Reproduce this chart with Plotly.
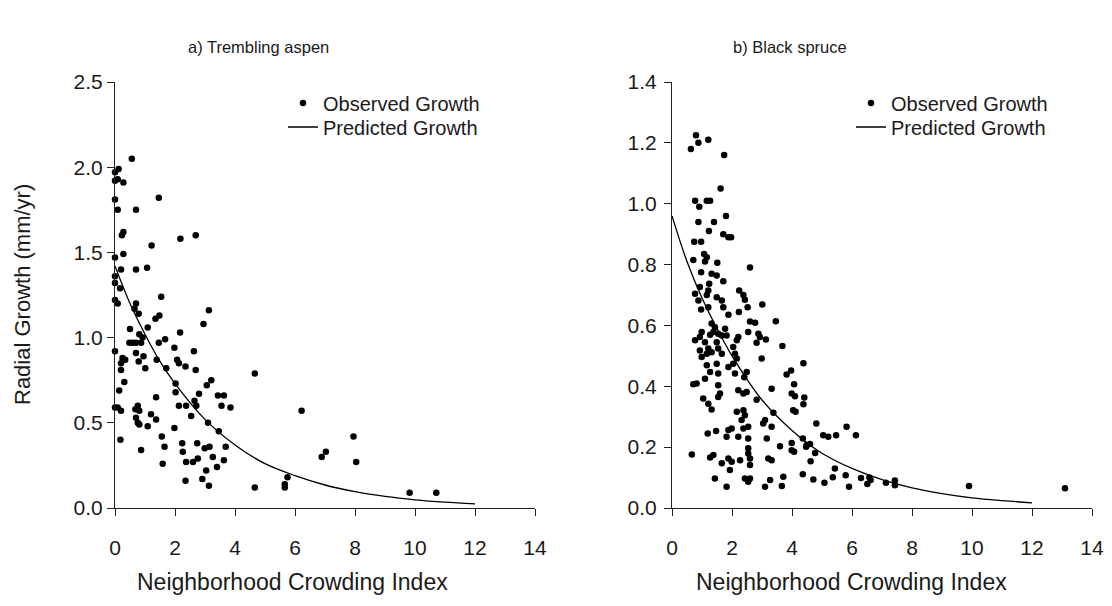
import plotly.graph_objects as go

# ---- data ----
aspen_nci = [0.56, 0.0, 0.12, 0.0, 0.09, 0.28, 1.46, 0.0, 0.09, 0.70, 0.23, 0.28, 2.18, 2.69, 1.22, 0.0, 0.28, 0.20, 0.70, 1.07,
             0.0, 0.0, 0.17, 1.54, 0.0, 0.09, 0.70, 0.65, 0.79, 1.48, 1.35, 3.13, 2.95, 1.09, 0.50,
             2.17, 0.92, 0.81, 0.48, 0.59, 0.70, 0.87, 1.46, 1.67, 0.0, 1.98, 2.63, 0.70, 0.95, 0.25, 0.34, 0.20, 1.39, 2.07, 2.13,
             0.79, 0.20, 1.01, 1.71, 2.35, 2.69, 0.31, 2.02, 3.06, 3.21, 4.66, 0.14, 2.02, 2.80, 3.43, 3.63, 1.37, 2.65, 2.71, 2.13,
             2.37, 3.55, 3.85, 0.0, 0.09, 0.20, 0.76, 0.81, 0.68, 0.70, 0.76, 0.81, 2.54, 1.20, 1.37, 1.09, 1.98, 3.10, 3.46, 0.18,
             1.56, 2.24, 2.74, 0.87, 1.65, 2.26, 2.99, 3.15, 3.69, 3.26, 1.59, 2.37, 2.60, 2.76, 3.40, 3.63, 3.04, 2.35, 2.91, 3.13,
             4.66, 5.66, 5.66, 5.75, 6.22, 7.95, 6.89, 7.03, 8.04, 9.82, 10.71]
aspen_growth = [2.05, 1.97, 1.99, 1.92, 1.93, 1.91, 1.82, 1.81, 1.75, 1.75, 1.60, 1.62, 1.58, 1.60, 1.54, 1.47, 1.49, 1.40, 1.40, 1.41,
                1.36, 1.32, 1.29, 1.24, 1.22, 1.20, 1.20, 1.17, 1.14, 1.13, 1.11, 1.16, 1.08, 1.06, 1.05,
                1.03, 1.00, 1.02, 0.97, 0.97, 0.97, 0.97, 0.97, 0.99, 0.92, 0.94, 0.92, 0.91, 0.89, 0.88, 0.87, 0.85, 0.87, 0.87, 0.85,
                0.86, 0.81, 0.82, 0.82, 0.83, 0.81, 0.74, 0.73, 0.72, 0.75, 0.79, 0.69, 0.68, 0.67, 0.66, 0.66, 0.65, 0.63, 0.60, 0.60,
                0.60, 0.60, 0.59, 0.59, 0.59, 0.57, 0.60, 0.57, 0.58, 0.53, 0.50, 0.49, 0.54, 0.55, 0.52, 0.48, 0.47, 0.50, 0.45, 0.40,
                0.42, 0.38, 0.38, 0.34, 0.36, 0.33, 0.35, 0.36, 0.36, 0.30, 0.26, 0.27, 0.27, 0.29, 0.24, 0.28, 0.22, 0.16, 0.17, 0.13,
                0.12, 0.14, 0.12, 0.18, 0.57, 0.42, 0.30, 0.33, 0.27, 0.09, 0.09]
aspen_pred_nci = [0, 0.5, 1, 1.5, 2, 3, 4, 5, 6, 7, 8, 9, 10, 11, 12]
aspen_pred_growth = [1.42, 1.20, 1.02, 0.86, 0.73, 0.52, 0.37, 0.26, 0.19, 0.135, 0.096, 0.068, 0.048, 0.034, 0.024]

spruce_nci = [0.80, 0.88, 1.21, 0.63, 1.74, 1.62, 0.77, 1.16, 1.27, 0.91, 1.80, 0.88, 1.40, 1.23, 1.71, 1.88, 1.97, 0.74, 0.97,
              0.71, 1.07, 1.16, 1.10, 1.51, 2.60, 0.97, 1.32, 1.49, 1.71, 1.24, 2.24,
              0.93, 0.77, 0.88, 1.21, 1.16, 1.49, 1.66, 1.71, 2.38, 2.43, 3.01, 2.52, 2.23, 1.88, 0.97, 1.21, 3.46, 2.60, 2.77,
              1.32, 1.43, 1.38, 1.54, 1.27, 1.66, 1.77, 1.82, 0.99, 0.93, 2.54, 2.88, 2.93, 2.21, 2.16, 0.77, 1.10, 1.21, 1.16,
              1.49, 1.54, 1.66, 2.82, 3.13, 3.68, 2.04, 2.10, 2.16, 0.93, 0.99, 1.32, 2.99,
              1.16, 1.27, 1.10, 1.49, 1.54, 1.88, 2.04, 2.10, 2.49, 2.41, 3.82, 0.82, 0.71, 1.54, 1.60, 1.54, 2.21, 2.38, 2.49,
              3.32, 2.82, 1.04, 1.21, 1.32, 2.16, 2.38, 2.43, 2.32, 3.38, 3.10, 3.04, 2.54, 2.38, 1.99, 1.88, 3.32, 1.47, 1.19,
              1.82, 2.21, 2.54, 3.16, 3.60, 3.99, 2.54, 2.54, 2.60, 2.60, 0.66, 1.38, 1.27, 1.88, 1.99, 2.27, 1.66, 3.21, 3.32,
              1.93, 1.43, 2.43, 2.54, 2.60, 1.82, 3.10, 3.27, 3.71, 3.66, 3.99, 4.04, 3.99,
              4.38, 3.97, 4.07, 4.10, 4.41, 4.38, 4.12, 4.81, 5.82, 6.13, 5.04, 5.21, 5.47, 4.36, 4.07, 4.49, 4.60, 4.47, 4.77,
              4.62, 5.43, 4.36, 4.71, 5.08, 5.36, 5.79, 5.90, 6.30, 6.58, 6.51, 6.62, 7.13, 7.43, 7.43, 9.90, 13.10]
spruce_growth = [1.225, 1.20, 1.21, 1.18, 1.16, 1.05, 1.01, 1.01, 1.01, 0.99, 0.96, 0.94, 0.94, 0.91, 0.90, 0.89, 0.89, 0.875, 0.875,
                 0.815, 0.835, 0.824, 0.81, 0.806, 0.79, 0.775, 0.77, 0.764, 0.745, 0.737, 0.715,
                 0.726, 0.704, 0.682, 0.715, 0.70, 0.693, 0.682, 0.66, 0.70, 0.684, 0.669, 0.66, 0.644, 0.635, 0.652, 0.66, 0.614, 0.613, 0.609,
                 0.606, 0.594, 0.578, 0.573, 0.569, 0.567, 0.589, 0.567, 0.578, 0.562, 0.578, 0.573, 0.562, 0.562, 0.551, 0.551, 0.545, 0.524, 0.507,
                 0.545, 0.524, 0.507, 0.543, 0.554, 0.532, 0.529, 0.507, 0.491, 0.518, 0.496, 0.512, 0.491,
                 0.469, 0.447, 0.425, 0.474, 0.442, 0.463, 0.474, 0.442, 0.447, 0.43, 0.439, 0.409, 0.407, 0.403, 0.376, 0.365, 0.387, 0.376, 0.381,
                 0.392, 0.356, 0.36, 0.343, 0.324, 0.316, 0.321, 0.305, 0.289, 0.313, 0.289, 0.278, 0.267, 0.261, 0.261, 0.256, 0.267, 0.253, 0.245,
                 0.234, 0.234, 0.228, 0.228, 0.203, 0.214, 0.196, 0.179, 0.163, 0.141, 0.176, 0.174, 0.166, 0.163, 0.152, 0.157, 0.147, 0.163, 0.157,
                 0.125, 0.097, 0.097, 0.086, 0.097, 0.07, 0.07, 0.092, 0.103, 0.072, 0.376, 0.321, 0.19,
                 0.476, 0.452, 0.407, 0.367, 0.363, 0.341, 0.316, 0.278, 0.267, 0.239, 0.239, 0.234, 0.239, 0.228, 0.185, 0.207, 0.21, 0.201, 0.181,
                 0.154, 0.13, 0.111, 0.094, 0.083, 0.101, 0.108, 0.07, 0.099, 0.10, 0.079, 0.092, 0.083, 0.09, 0.075, 0.072, 0.065]
spruce_pred_nci = [0, 0.5, 1, 1.5, 2, 3, 4, 5, 6, 7, 8, 9, 10, 11, 12]
spruce_pred_growth = [0.96, 0.81, 0.69, 0.59, 0.50, 0.355, 0.255, 0.18, 0.13, 0.093, 0.066, 0.047, 0.033, 0.024, 0.017]

x_ticks = [0, 2, 4, 6, 8, 10, 12, 14]
aspen_y_ticks = [0.0, 0.5, 1.0, 1.5, 2.0, 2.5]
spruce_y_ticks = [0.0, 0.2, 0.4, 0.6, 0.8, 1.0, 1.2, 1.4]

panel_titles = ["a) Trembling aspen", "b) Black spruce"]
x_title = "Neighborhood Crowding Index"
y_title = "Radial Growth (mm/yr)"

# ---- figure ----
W, H = 1112, 606
FONT = "Arial, 'Liberation Sans', sans-serif"
INK = "#1a1a1a"

def px_x(p):
    return p / W

def px_y(p):
    return 1 - p / H

fig = go.Figure()

mk = dict(color="black", size=6.5, symbol="circle")
ln = dict(color="black", width=1.3, shape="spline")

fig.add_trace(go.Scatter(x=aspen_nci, y=aspen_growth, mode="markers", marker=mk, name="Observed Growth",
                         xaxis="x", yaxis="y", legend="legend5", showlegend=True, cliponaxis=False))
fig.add_trace(go.Scatter(x=aspen_pred_nci, y=aspen_pred_growth, mode="lines", line=ln, name="Predicted Growth",
                         xaxis="x", yaxis="y", legend="legend3", showlegend=True))
fig.add_trace(go.Scatter(x=spruce_nci, y=spruce_growth, mode="markers", marker=mk, name="Observed Growth",
                         xaxis="x2", yaxis="y2", legend="legend2", showlegend=True, cliponaxis=False))
fig.add_trace(go.Scatter(x=spruce_pred_nci, y=spruce_pred_growth, mode="lines", line=ln, name="Predicted Growth",
                         xaxis="x2", yaxis="y2", legend="legend4", showlegend=True))

ydom = [px_y(508), px_y(82)]
axis_common = dict(showgrid=False, zeroline=False, showline=True, linecolor="#222", linewidth=1.2,
                   ticks="outside", ticklen=7, tickcolor="#222", tickwidth=1.2, automargin=False,
                   tickfont=dict(family=FONT, size=21, color=INK))

leg_font = dict(family=FONT, size=20, color=INK)

def leg(xp, yp):
    return dict(x=px_x(xp), y=px_y(yp), xanchor="left", yanchor="middle", bgcolor="rgba(0,0,0,0)",
                font=leg_font, borderwidth=0, visible=True)

def ann(text, xp, yp, size, angle=0):
    return dict(text=text, x=px_x(xp), y=px_y(yp), xref="paper", yref="paper", showarrow=False,
                xanchor="center", yanchor="middle", textangle=angle,
                font=dict(family=FONT, size=size, color=INK))

fig.update_layout(
    template="none",
    showlegend=True,
    width=W, height=H, margin=dict(l=0, r=0, t=0, b=0, autoexpand=False),
    paper_bgcolor="white", plot_bgcolor="white",
    font=dict(family=FONT, color=INK),
    xaxis=dict(domain=[px_x(115), px_x(535)], range=[0, 14], tickvals=x_ticks, anchor="y",
               ticklabelstandoff=14, **axis_common),
    yaxis=dict(domain=ydom, range=[0, 2.5], tickvals=aspen_y_ticks, tickformat=".1f", anchor="x",
               ticklabelstandoff=0, **axis_common),
    xaxis2=dict(domain=[px_x(672), px_x(1092)], range=[0, 14], tickvals=x_ticks, anchor="y2",
                ticklabelstandoff=14, **axis_common),
    yaxis2=dict(domain=ydom, range=[0, 1.4], tickvals=spruce_y_ticks, tickformat=".1f", anchor="x2",
                ticklabelstandoff=3, **axis_common),
    legend=leg(283, 103),
    legend5=leg(283, 103),
    legend3=leg(283, 127),
    legend2=leg(851, 103),
    legend4=leg(851, 127),
    annotations=[
        ann(panel_titles[0], 258, 47, 16.5),
        ann(panel_titles[1], 790, 47, 16.5),
        ann(x_title, 292, 582, 23),
        ann(x_title, 851, 582, 23),
        ann(y_title, 22, 295, 22, -90),
    ],
)

fig.write_html("out.html")
